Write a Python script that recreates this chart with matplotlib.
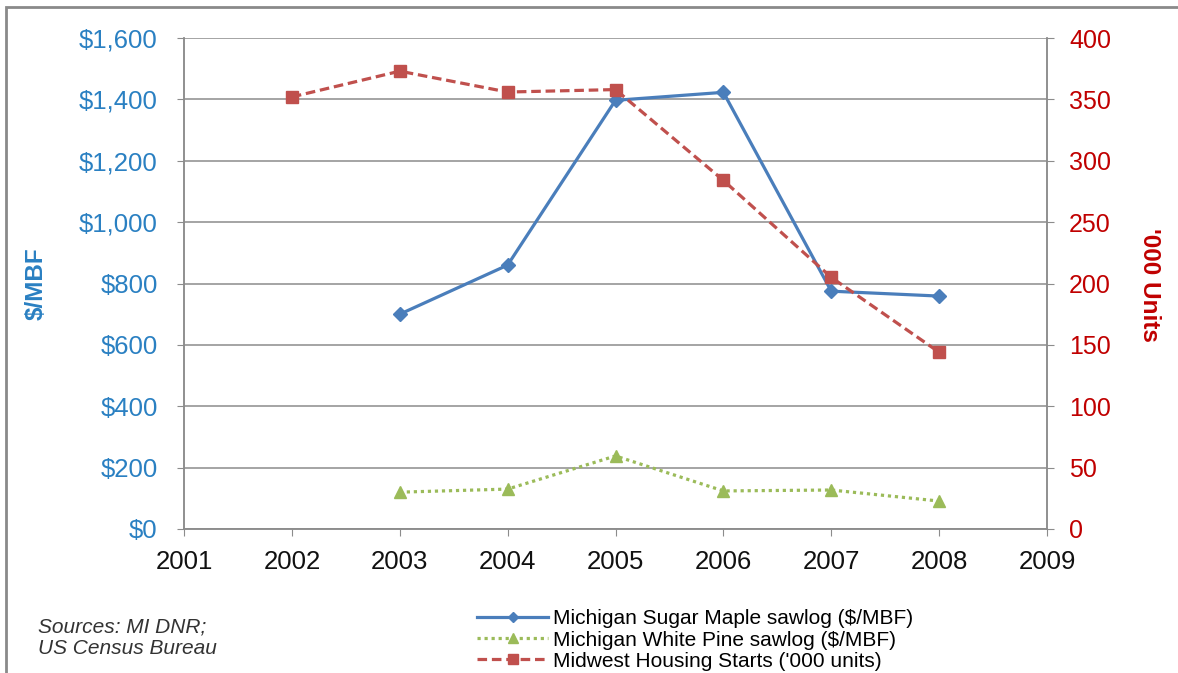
import matplotlib
matplotlib.use('agg')
import matplotlib.pyplot as plt
from matplotlib.patches import Rectangle
from matplotlib.ticker import FuncFormatter

plt.rcParams['font.family'] = ['Liberation Sans', 'DejaVu Sans']

years = [2002, 2003, 2004, 2005, 2006, 2007, 2008]
maple_years = [2003, 2004, 2005, 2006, 2007, 2008]
sugar_maple = [700, 860, 1397, 1423, 775, 759]
white_pine = [120, 130, 238, 124, 127, 91]
housing_starts = [352, 373, 356, 358, 284, 205, 144]

left_ticks = [0, 200, 400, 600, 800, 1000, 1200, 1400, 1600]
right_ticks = [0, 50, 100, 150, 200, 250, 300, 350, 400]
year_ticks = list(range(2001, 2010))

blue = '#4a7ebb'
green = '#9bbb59'
red = '#c0504d'
blue_text = '#2a80c2'
red_text = '#c00000'
grid_gray = '#8c8c8c'

fig = plt.figure(figsize=(11.78, 6.73), dpi=100)
ax = fig.add_axes([0.1562, 0.2140, 0.7326, 0.7295])
ax2 = ax.twinx()

l1, = ax.plot(maple_years, sugar_maple, color=blue, lw=2.3, marker='D', ms=7,
              label='Michigan Sugar Maple sawlog ($/MBF)')
l2, = ax.plot(maple_years, white_pine, color=green, lw=2.3, ls=(0, (1, 1.2)), marker='^', ms=9,
              label='Michigan White Pine sawlog ($/MBF)')
l3, = ax2.plot(years, housing_starts, color=red, lw=2.3, ls=(0, (3, 1.5)), marker='s', ms=9,
               label="Midwest Housing Starts ('000 units)")

ax.set_xlim(2001, 2009)
ax.set_ylim(0, 1600)
ax2.set_ylim(0, 400)
ax.set_xticks(year_ticks)
ax.set_yticks(left_ticks)
ax2.set_yticks(right_ticks)
ax.yaxis.set_major_formatter(FuncFormatter(lambda v, p: '${:,.0f}'.format(v)))

ax.grid(axis='y', color=grid_gray, lw=1.1)
ax.set_axisbelow(True)
for a in (ax, ax2):
    a.spines['top'].set_visible(False)
    for s in ('left', 'right', 'bottom'):
        a.spines[s].set_color(grid_gray)
        a.spines[s].set_linewidth(1.1)
ax.tick_params(axis='y', colors=grid_gray, labelcolor=blue_text, labelsize=18.5, length=5, pad=14)
ax.tick_params(axis='x', colors=grid_gray, labelcolor='#111111', labelsize=18.5, length=5, pad=10)
ax2.tick_params(axis='y', colors=grid_gray, labelcolor=red_text, labelsize=18, length=5, pad=11)

fig.text(0.0306, 0.579, '$/MBF', color=blue_text, fontsize=17.5, fontweight='bold',
         rotation=90, ha='center', va='center')
fig.text(0.976, 0.577, "'000 Units", color=red_text, fontsize=17.5, fontweight='bold',
         rotation=270, ha='center', va='center')

fig.legend(handles=[l1, l2, l3], loc='center left', bbox_to_anchor=(0.405, 0.049),
           frameon=False, fontsize=15, handlelength=3.4, handletextpad=0.25,
           labelspacing=0.1, borderaxespad=0, borderpad=0, markerscale=0.8)

fig.text(0.032, 0.052, 'Sources: MI DNR;\nUS Census Bureau', fontsize=15, style='italic',
         color='#333333', ha='left', va='center', linespacing=1.15)

fig.patches.append(Rectangle((0.005, -0.05), 1.1, 1.04, transform=fig.transFigure,
                             fill=False, edgecolor='#8a8a8a', lw=2))

plt.savefig('out.png', dpi=100)
